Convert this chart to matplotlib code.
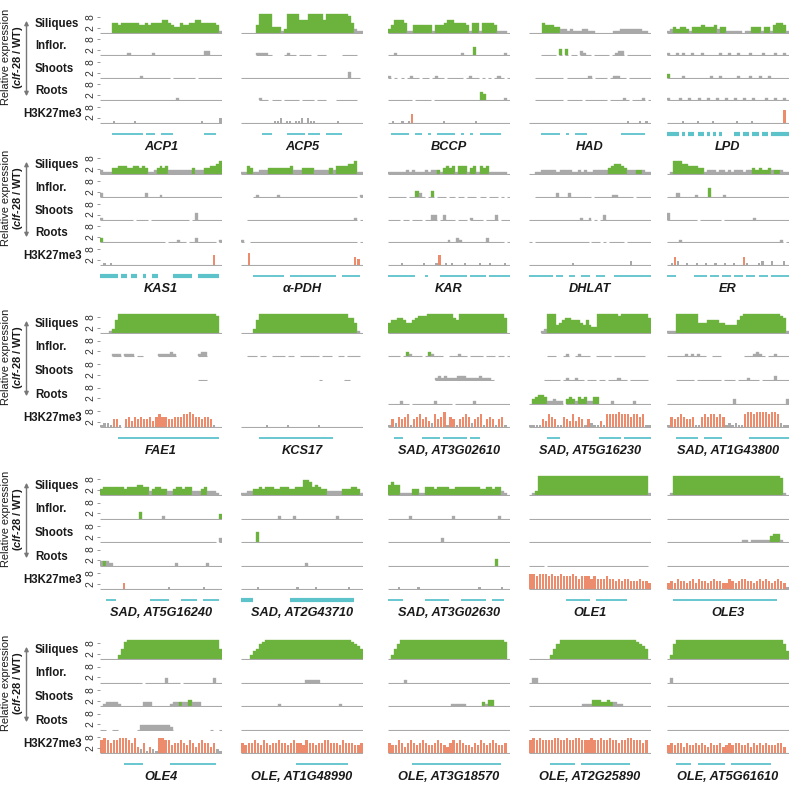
import matplotlib
matplotlib.use('Agg')
import matplotlib.pyplot as plt
from matplotlib.patches import FancyArrowPatch

W, H = 797, 785
plt.rcParams['font.family'] = ['Liberation Sans', 'DejaVu Sans']
plt.rcParams['mathtext.fontset'] = 'custom'
plt.rcParams['mathtext.it'] = 'Liberation Sans:bold:italic'
plt.rcParams['mathtext.rm'] = 'Liberation Sans:bold'
plt.rcParams['mathtext.bf'] = 'Liberation Sans:bold'

# ---------------- data ----------------
# Each track string: one char per genomic bin.
# ' ' = no data, '0'-'9' = grey level, 'a'-'j' = coloured level 0-9
track_names = ['Siliques', 'Inflor.', 'Shoots', 'Roots', 'H3K27me3']

gene_labels = ['ACP1', 'ACP5', 'BCCP', 'HAD', 'LPD',
               'KAS1', 'α-PDH', 'KAR', 'DHLAT', 'ER',
               'FAE1', 'KCS17', 'SAD, AT3G02610', 'SAD, AT5G16230', 'SAD, AT1G43800',
               'SAD, AT5G16240', 'SAD, AT2G43710', 'SAD, AT3G02630', 'OLE1', 'OLE3',
               'OLE4', 'OLE, AT1G48990', 'OLE, AT3G18570', 'OLE, AT2G25890', 'OLE, AT5G61610']

siliques = [
    "0000ffeffffffeefeffffggfeddfeeffggfffffe1",
    "00000ejjjjddd1cjjjjgggjjjjjgjjjjjjjif211",
    "cegggf11eeeeee1eeefggffffe1ff1ffffe1110",
    "0000feeedd22121112211000000112222222110",
    "12dcddc1dddeddde2dd11111011ddd1dd1effe1",
    "2111ddeeeddeeded112dede22222222d222ddeefg",
    "11ed11222ddddddde222dddd22222d2eeeeffg11",
    "1111112121112122c1dede1eee1de1ede1111110",
    "00112222212222112121122222deffed222cc211",
    "01gggffeeedd1222122121222122dcdccd2cc211",
    "0001cgjjjjjjjjjjjjjjjjjjjjjjjjjjjjjjjji0",
    "0000cgjjjjjjjjjjjjjjjjjjjjjjjjjjjjjjhhf10",
    "fgghhgffghiiijjjjjjjjjhgjjjjjjjjjjjjjjjh0",
    "    12jjjefghhgggfegeddjjjjjjjijjjjjjjjjh",
    "111jjjjjjjfffggggffeeeegijjjjjjjjjjjjih1",
    "deeeeeeedeeeffee2deedd22deedee222de22210",
    "1122ddedeeeddeeeddeeehhgefedd22222dddeed1",
    "fgff1111dd11eeedeeeeddeeeeeeeeddeedee210",
    "01cjjjjjjjjjjjjjjjjjjjjjjjjjjjjjjjjjjjj1",
    "01jjjjjjjjjjjjjjjjjjjjjjjjjjjjjjjjjjji10",
    "000000cfijjjjjjjjjjjjjjjjjjjjjjjjjjjjjjf",
    "000cefhijjjjjjjjjjjjjjjjjjjjjjjjjjjjihgf",
    "0cfhjjjjjjjjjjjjjjjjjjjjjjjjjjjjjjjjjji0",
    "0000000cfhjjjjjjjjjjjjjjjjjjjjjjjjjihgf0",
    "0chjjjjjjjjjjjjjjjjjjjjjjjjjjjjjjjjjjjhe",
]

inflor = [
    "0000000001000000010000000000000000220000",
    "     11110    0100 0000  000     00000  ",
    "0010000000000000000000001000e00000000010",
    "    00000 d d 00 2100 00000 0122 00000000",
    "1001010010010000010010010001000100010010",
    "20000000000000020000100000000000000000000",
    "    01000000100000000000000000000000000 1",
    "000000 00d20 0d 000 00 00 000 00 000 0 0",
    "  0000000200020000000 0000001100000 00000",
    "0002000001000e0000100000000000000000000",
    "    111 111 00     111121       122     ",
    "  000 00  0000 00  000000 000  00 0000 ",
    "0000 0c1000 0c1000  000100 0000 000 00 0",
    "      000  01  01000  00000 0000000000  ",
    "0000001010100  000        0001210 0010000",
    "0000000000000d00000001000000000000000000c",
    "0000000000001000010000000000000100000000",
    "0000000100000000000001000000000000001000",
    "0000000000000000000000000000000000000000",
    "0000000000000000000000000000000000000000",
    "00000000000000 000000020000 0000000000200",
    "0000000000000000000001111100000000000000",
    "000001000000000000000000000000000000000",
    "0220000000000000000000000000000000000000",
    "0200000000000000000000000000000000000000",
]

shoots = [
    "00000000000001000000000 0000000 00000000",
    "000000000000000000000000000000000003000 ",
    "1 0 0 0100 00 0100 00000 0100 0 0 010 0",
    "  000000000 00000001 0000 01100 0000000",
    "c000010000000010010000010001001001000000",
    "10000000000 0000 0000000000000 0300000000",
    "  0000000000000000000000000000000000001 0",
    "0000 00 000 0022 02000 000 1000 0002 000",
    "000000000000000001001 0 02000000000000000",
    "3000000000 0000000 0000000000100000000000",
    "                                000     ",
    "                         0       00    ",
    "               1212111222111121110     ",
    "     00000 0100100 000 00 000100 000000 ",
    "   000000 00000000 0000 0001000 000020000",
    "00000000000000000000000000000000000000 2",
    "00000f0000000000000000000000000000000000",
    "000000000000000002000000000000000000000",
    "0000000000000000000000000000000000000000",
    "000000000000000000000000110111111dee100",
    "01222210000000222000000122c22d2220000000",
    "0000000000001000000000000000000010000000",
    "000000000000000000001111100000c1dd00000",
    "00000000000000000111dddccdc211000000000",
    "0000000000000000000000000000000000000000",
]

roots = [
    "0000000000000000000000000100000000000000",
    "      100 000 00000 0000 000   0000000  ",
    "00000000 00000 000000000000000ed00000010",
    "  000000000 00000 0000000 000010 0001 0",
    "1000100100100100100100100100100010010010",
    "c000000000000000000000 000100 002000000 1",
    "1  000000000000000000000000000000000000 0",
    "000000000000000000001002100000000200000 0",
    "0 000000000000000000 000 0 00000 00000000",
    "00001000000000000000000000000000000001 0",
    "                                        ",
    "                                        ",
    "0000100 0000000100000 000000100000000000",
    "0cdeed11211 cdc1dcd11dd00001000000100000",
    "000000000000000000000200000000000000002",
    "2c2100000000000000000000100000000010000",
    "0000000000000000000001000000000000000000",
    "00000000000000000000000000000000000d0000",
    "00000 000000000000000000000000000000000 ",
    "0000000000000000000000000000000000000",
    "00  00      022222222221            0  0",
    "0000000000000000000000000000000000000000",
    "0000000000000000000000000000000000000000",
    "0000000000000000000000000000000000000000",
    "0000000000000000000000000000000000000000",
]

h3k27me3 = [
    "0000100000010000000000000000000001000002",
    "00000000000112011011202110000000100000000",
    "0100101e000000000100000000010000000000",
    "0000000000000000000000000000000010001010",
    "000001000010000100000001000010000000000g0",
    "0101000000000000000000000000000000000f00",
    "00g0000000000000000000000000000000000ed0",
    "0000100000010001f0101000100001001000010",
    "0000000000000010000000000000000002000000",
    "01e200100100100100100100e10001200200020",
    "1221ee1 efdfefeefdfgffeefffgghgffeffe100",
    "0000000010000001000000000100000000000000",
    "1e2fefg1efgefd2gefh1fe1efgf2efg1efe1ef10",
    "1111edgfe11fedgdfe1e211d1gggghgggfggfg11",
    "1fefgfeef11fgfggfgf121211ghhghhhhghhg211",
    "0000000d000000000000010000000000100000",
    "0000010000000000001000001000000000010000",
    "00010000010000000000000000001000000100",
    "hhghhhghgghggghgfgggfgfffgffefeffeeefeed",
    "dedfeedefdfeedefeeddfedeffeedefefedefed1",
    "ghgfgghhhgfhd2f1d21hhggeffgfegfdfgffdf21",
    "feffgfegfeffgffefgffegffeffggfffegfffeef",
    "feegfdfgfefgfeefgfedfgfgfeedfegfefgfeef0",
    "ghghgggghhgghgghhggghgghgghggfgghhgggfg0",
    "efeffdfeefefedfeefdefeffeefdfefefeeeffd0",
]

# gene models: '-' thin exon block, '=' thick block
gene_models = [
    "    ---------- ---  ----          ----  ",
    "       ---     ------ ----  -----       ",
    " ------  --  -  ------  -  -  -------   ",
    "    ------  -  ----           --------  ",
    "==== = == == = = =    == == == == ======",
    "====== == ==  =  ==     ======  ======= ",
    "    ----------  ---------------  ------ ",
    "---------   -    --------- ----- -------",
    "-------- --  --  ---  ---   ------------",
    "---      ---- --- --- --- --- --- ------",
    "      --------------------------------- ",
    "      ------------------------          ",
    "  ---      ------ -------- ---          ",
    "      ----             ------- ---------",
    "   -------  ------         -------------",
    "  ---           ------    -----  ----- ",
    "====            =====================   ",
    "-----       --------    --------  ----  ",
    "            --------  ----------        ",
    "  ----------------------------------    ",
    "        ------         ---------------  ",
    "                  -----------------     ",
    "        -----------------------------   ",
    "       --------  ----------------       ",
    "   -----  ---------  -------------      ",
]

# ---------------- style / layout ----------------
GRAY = '#a9a9a9'
GREEN = '#6cb33e'
ORANGE = '#ec8c6c'
CYAN = '#5cc3cb'
TXT = '#1a1a1a'

col_x = [100, 241, 388, 529, 667]
col_w = 122
row_base = [33, 174, 333, 495, 659]
row_step = [22.4, 22.8, 23.5, 23.5, 23.5]
PXU = 2.1  # px per level unit

fig = plt.figure(figsize=(W / 100, H / 100), dpi=100)


def add_ax(x0, ytop, w, h):
    return fig.add_axes([x0 / W, 1 - (ytop + h) / H, w / W, h / H])


def draw_track(ax, s, color, bw, expr):
    n = len(s)
    xs, hs, cs = [], [], []
    runs = []
    start = None
    for i, ch in enumerate(s):
        if ch == ' ':
            if start is not None:
                runs.append((start, i))
                start = None
            continue
        if start is None:
            start = i
        if ch.isdigit():
            lvl, col = int(ch), GRAY
        else:
            lvl, col = ord(ch) - ord('a'), color
        if lvl > 0:
            xs.append(i + 0.5)
            hs.append(lvl)
            cs.append(col)
    if start is not None:
        runs.append((start, n))
    for a, b in runs:
        ax.plot([a, b], [0, 0], color=GRAY, lw=0.8, solid_capstyle='butt')
    if xs:
        if expr:
            ax.bar(xs, hs, width=bw, color=cs, edgecolor=cs, linewidth=0.25, bottom=0)
        else:
            ax.bar(xs, hs, width=bw, color=cs, linewidth=0, bottom=0)
    ax.set_xlim(0, n)
    ax.set_ylim(-0.5, 9.5)


tracks = [siliques, inflor, shoots, roots, h3k27me3]

for p in range(25):
    r, c = divmod(p, 5)
    x0 = col_x[c]
    for t in range(5):
        base = row_base[r] + t * row_step[r]
        ax = add_ax(x0, base - 9.5 * PXU, col_w, 10 * PXU)
        color = ORANGE if t == 4 else GREEN
        bw = 0.72 if t == 4 else 1.0
        draw_track(ax, tracks[t][p], color, bw, t != 4)
        for sp in ax.spines.values():
            sp.set_visible(False)
        ax.set_xticks([])
        ax.patch.set_alpha(0)
        if c == 0:
            ax.set_yticks([2.4, 7.6])
            ax.set_yticklabels(['2', '8'], rotation=90, va='center',
                               fontsize=7.5, color='#333333')
            ax.tick_params(axis='y', length=2, width=0.6, color='#888888', pad=1)
        else:
            ax.set_yticks([])
    # gene model row
    gbase = row_base[r] + 4 * row_step[r] + 11
    gax = add_ax(x0, gbase - 3, col_w, 6)
    gm = gene_models[p]
    for i, ch in enumerate(gm):
        if ch == '-':
            gax.plot([i, i + 1], [0, 0], color=CYAN, lw=1.3, solid_capstyle='butt')
        elif ch == '=':
            gax.plot([i, i + 1], [0, 0], color=CYAN, lw=3.0, solid_capstyle='butt')
    gax.set_xlim(0, len(gm))
    gax.set_ylim(-1, 1)
    gax.axis('off')
    # gene label
    ly = row_base[r] + 4 * row_step[r] + 24
    fig.text((x0 + col_w / 2) / W, 1 - ly / H, gene_labels[p], ha='center', va='center',
             fontsize=9.2, fontweight='bold', fontstyle='italic', color=TXT)

# row labels & left annotations
for r in range(5):
    for t, name in enumerate(track_names):
        base = row_base[r] + t * row_step[r]
        y = 1 - (base - 9) / H
        if t == 4:
            fig.text(82 / W, y, name, ha='right', va='center', fontsize=8.3,
                     fontweight='bold', color=TXT)
        else:
            fig.text(35 / W, y, name, ha='left', va='center', fontsize=8.3,
                     fontweight='bold', color=TXT)
    cy = 1 - (row_base[r] + 24) / H
    fig.text(6.5 / W, cy, 'Relative expression', rotation=90, ha='center', va='center',
             fontsize=7.9, color=TXT)
    fig.text(18 / W, cy, r'($\it{clf}$-28 / WT)', rotation=90, ha='center', va='center',
             fontsize=7.9, fontweight='bold', color=TXT)
    y1 = 1 - (row_base[r] - 15) / H
    y2 = 1 - (row_base[r] + 66) / H
    arr = FancyArrowPatch((26.5 / W, y1), (26.5 / W, y2), transform=fig.transFigure,
                          arrowstyle='<|-|>', mutation_scale=6, color='#777777', lw=1.0)
    fig.add_artist(arr)

fig.savefig('out.png', dpi=100)
